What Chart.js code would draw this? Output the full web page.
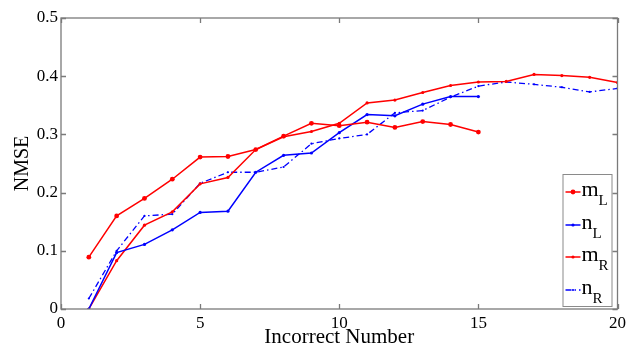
<!DOCTYPE html>
<html><head><meta charset="utf-8">
<script src="https://cdn.jsdelivr.net/npm/chart.js@4/dist/chart.umd.min.js"></script>
<style>html,body{margin:0;padding:0;background:#fff}#wrap{width:630px;height:350px;position:relative}</style>
</head><body><div id="wrap"><canvas id="c"></canvas></div>
<script>
const xValues = [1,2,3,4,5,6,7,8,9,10,11,12,13,14,15,16,17,18,19,20];
const mL = [0.089,0.160,0.190,0.223,0.261,0.262,0.274,0.297,0.319,0.315,0.321,0.312,0.322,0.317,0.304];
const nL = [0.000,0.097,0.111,0.136,0.166,0.168,0.235,0.264,0.268,0.303,0.334,0.332,0.352,0.365,0.365];
const mR = [0.000,0.083,0.144,0.167,0.215,0.226,0.274,0.296,0.305,0.319,0.354,0.359,0.372,0.384,0.390,0.391,0.403,0.401,0.398,0.389];
const nR = [0.018,0.100,0.160,0.163,0.216,0.235,0.235,0.244,0.284,0.293,0.300,0.337,0.341,0.364,0.383,0.390,0.386,0.381,0.373,0.379];
const xTicks = [0,5,10,15,20];
const yTicks = [0,0.1,0.2,0.3,0.4,0.5];
const legendMain = ['m','n','m','n'];
const legendSub = ['L','L','R','R'];

const pts = arr => arr.map((v,i)=>({x:xValues[i], y:v}));
const SERIF = "'Liberation Serif','Times New Roman',serif";

const frameTicks = {
  id:'frameTicks',
  afterDatasetsDraw(chart){
    const {ctx, chartArea:a, scales:{x,y}} = chart;
    ctx.save();
    ctx.strokeStyle='#7a7a7a'; ctx.lineWidth=1.3;
    ctx.strokeRect(a.left, a.top, a.right-a.left, a.bottom-a.top);
    const tl=5;
    ctx.beginPath();
    xTicks.forEach(v=>{const px=Math.round(x.getPixelForValue(v))+0.5;
      ctx.moveTo(px,a.bottom); ctx.lineTo(px,a.bottom-tl);
      ctx.moveTo(px,a.top); ctx.lineTo(px,a.top+tl);});
    yTicks.forEach(v=>{const py=Math.round(y.getPixelForValue(v))+0.5;
      ctx.moveTo(a.left,py); ctx.lineTo(a.left+tl,py);
      ctx.moveTo(a.right,py); ctx.lineTo(a.right-tl,py);});
    ctx.stroke();
    ctx.restore();
  },
  afterDraw(chart){
    const {ctx, chartArea:a} = chart;
    const lw=49, lh=132;
    const lx=a.right-6-lw, ly=a.bottom-3-lh;
    ctx.save();
    ctx.fillStyle='#fff'; ctx.fillRect(lx,ly,lw,lh);
    ctx.strokeStyle='#8a8a8a'; ctx.lineWidth=1;
    ctx.strokeRect(lx+0.5,ly+0.5,lw,lh);
    const rows=[18,51,83,116];
    chart.data.datasets.forEach((ds,i)=>{
      const cy=ly+rows[i];
      ctx.strokeStyle=ds.borderColor; ctx.lineWidth=ds.borderWidth;
      ctx.setLineDash(ds.borderDash||[]);
      ctx.beginPath(); ctx.moveTo(lx+3,cy); ctx.lineTo(lx+18,cy); ctx.stroke();
      ctx.setLineDash([]);
      if(ds.pointRadius>0){ctx.fillStyle=ds.borderColor; ctx.beginPath(); ctx.arc(lx+10.5,cy,ds.pointRadius,0,Math.PI*2); ctx.fill();}
      ctx.fillStyle='#000';
      ctx.textBaseline='alphabetic'; ctx.textAlign='left';
      ctx.font='22px '+SERIF;
      ctx.fillText(legendMain[i], lx+19, cy+4);
      const w=ctx.measureText(legendMain[i]).width;
      ctx.font='15px '+SERIF;
      ctx.fillText(legendSub[i], lx+19+w, cy+13);
    });
    ctx.restore();
  }
};

new Chart(document.getElementById('c'), {
  type:'line',
  data:{datasets:[
    {label:'mL', data:pts(mL), borderColor:'#ff0000', backgroundColor:'#ff0000', borderWidth:1.5, pointRadius:2.4, pointBorderWidth:0, pointHoverRadius:0},
    {label:'nL', data:pts(nL), borderColor:'#0000ff', backgroundColor:'#0000ff', borderWidth:1.5, pointRadius:1.6, pointBorderWidth:0, pointHoverRadius:0},
    {label:'mR', data:pts(mR), borderColor:'#ff0000', backgroundColor:'#ff0000', borderWidth:1.5, pointRadius:1.6, pointBorderWidth:0, pointHoverRadius:0},
    {label:'nR', data:pts(nR), borderColor:'#0000ff', backgroundColor:'#0000ff', borderWidth:1.3, borderDash:[6,3,1.5,3], pointRadius:1.1, pointBorderWidth:0, pointHoverRadius:0}
  ]},
  options:{
    responsive:true, maintainAspectRatio:false, animation:false, devicePixelRatio:1,
    layout:{padding:{top:18,right:11,left:0,bottom:0}},
    plugins:{legend:{display:false}, tooltip:{enabled:false}},
    elements:{line:{tension:0}},
    scales:{
      x:{type:'linear', min:0, max:20,
        afterBuildTicks:s=>{s.ticks=xTicks.map(v=>({value:v}));},
        afterFit:s=>{s.height=41;},
        grid:{display:false, drawTicks:false}, border:{display:false},
        ticks:{padding:4, color:'#000', font:{family:SERIF,size:17}, maxRotation:0, callback:v=>String(v)},
        title:{display:true, text:'Incorrect Number', color:'#000', font:{family:SERIF,size:21}, padding:{top:0,bottom:0}}
      },
      y:{type:'linear', min:0, max:0.5,
        afterBuildTicks:s=>{s.ticks=yTicks.map(v=>({value:v}));},
        afterFit:s=>{s.width=61;},
        grid:{display:false, drawTicks:false}, border:{display:false},
        ticks:{padding:3, color:'#000', font:{family:SERIF,size:17}, callback:v=>String(Math.round(v*10)/10)},
        title:{display:true, text:'NMSE', color:'#000', font:{family:SERIF,size:20}, padding:{top:11,bottom:0}}
      }
    }
  },
  plugins:[frameTicks]
});
</script>
</body></html>
